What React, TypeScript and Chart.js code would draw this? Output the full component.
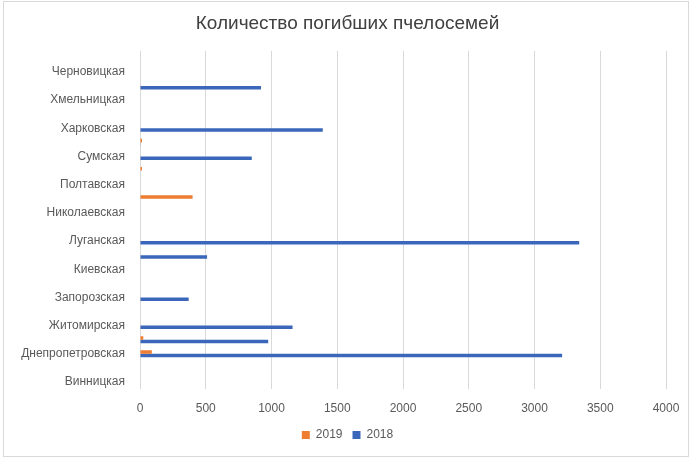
import React, { useEffect, useRef } from 'react';
import { Chart, registerables } from 'chart.js';

Chart.register(...registerables);

// Categories from bottom (index 0) to top
const categories: string[] = [
  'Винницкая',
  'Волынская',
  'Днепропетровская',
  'Донецкая',
  'Житомирская',
  'Закарпатская',
  'Запорозская',
  'Ивано-Франковская',
  'Киевская',
  'Кировоградская',
  'Луганская',
  'Львовская',
  'Николаевская',
  'Одесская',
  'Полтавская',
  'Ровенская',
  'Сумская',
  'Тернопольская',
  'Харковская',
  'Херсонская',
  'Хмельницкая',
  'Черкасская',
  'Черновицкая',
  'Черниговская',
];

const deaths2019: number[] = [0, 0, 90, 25, 0, 0, 0, 0, 0, 0, 0, 0, 0, 400, 0, 15, 0, 15, 0, 0, 0, 0, 0, 0];
const deaths2018: number[] = [0, 0, 3210, 975, 1160, 0, 370, 0, 0, 510, 3340, 0, 0, 0, 0, 0, 850, 5, 1390, 0, 0, 920, 0, 0];

const seriesLabels: string[] = ['2019', '2018'];
const xMin = 0;
const xMax = 4000;
const xStep = 500;

const titleText = 'Количество погибших пчелосемей';

export default function App() {
  const ref = useRef<HTMLCanvasElement>(null);

  useEffect(() => {
    const font = '"Liberation Sans", Arial, sans-serif';
    const chart = new Chart(ref.current as HTMLCanvasElement, {
      type: 'bar',
      data: {
        labels: categories,
        datasets: [
          {
            label: seriesLabels[0],
            data: deaths2019,
            backgroundColor: '#ED7D31',
            borderColor: '#ED7D31',
            borderWidth: 0,
          },
          {
            label: seriesLabels[1],
            data: deaths2018,
            backgroundColor: '#3A67BA',
            borderColor: '#3A67BA',
            borderWidth: 0,
          },
        ],
      },
      options: {
        indexAxis: 'y',
        responsive: false,
        animation: false,
        layout: { padding: { left: 0, right: 0, top: 9, bottom: 13 } },
        datasets: { bar: { categoryPercentage: 0.5, barPercentage: 1 } },
        scales: {
          x: {
            min: xMin,
            max: xMax,
            ticks: {
              stepSize: xStep,
              color: '#595959',
              font: { family: font, size: 12 },
              padding: 12,
              callback: (v: any) => String(v),
            },
            grid: { color: '#d9d9d9', drawTicks: false, lineWidth: 1 },
            border: { display: false },
            afterFit: (s: any) => {
              s.height = 30;
            },
          },
          y: {
            reverse: true,
            grid: { display: false },
            border: { display: false },
            ticks: {
              autoSkip: false,
              color: '#595959',
              font: { family: font, size: 12 },
              padding: 7,
              callback: (_v: any, i: number) => (i % 2 === 0 ? categories[i] : ''),
            },
            afterFit: (s: any) => {
              s.width = 140;
            },
          },
          rightSpace: {
            type: 'linear',
            position: 'right',
            display: true,
            grid: { display: false },
            border: { display: false },
            ticks: { display: false },
            afterFit: (s: any) => {
              s.width = 29;
            },
          },
        },
        plugins: {
          title: {
            display: true,
            text: titleText,
            color: '#404040',
            font: { family: font, size: 19, weight: 'normal' },
            padding: { top: 3, bottom: 16 },
          },
          legend: {
            position: 'bottom',
            labels: {
              color: '#595959',
              font: { family: font, size: 12 },
              boxWidth: 8,
              boxHeight: 8,
              padding: 10,
            },
          },
          tooltip: { enabled: false },
        },
      },
    } as any);
    return () => chart.destroy();
  }, []);

  return (
    <div style={{ position: 'fixed', left: 0, top: 0, width: 695, height: 464, background: '#fff' }}>
      <div
        style={{
          position: 'absolute',
          left: 3,
          top: 1,
          width: 684,
          height: 454,
          border: '1px solid #d9d9d9',
          pointerEvents: 'none',
        }}
      />
      <canvas ref={ref} width={695} height={464} style={{ position: 'absolute', left: 0, top: 0, display: 'block' }} />
    </div>
  );
}
